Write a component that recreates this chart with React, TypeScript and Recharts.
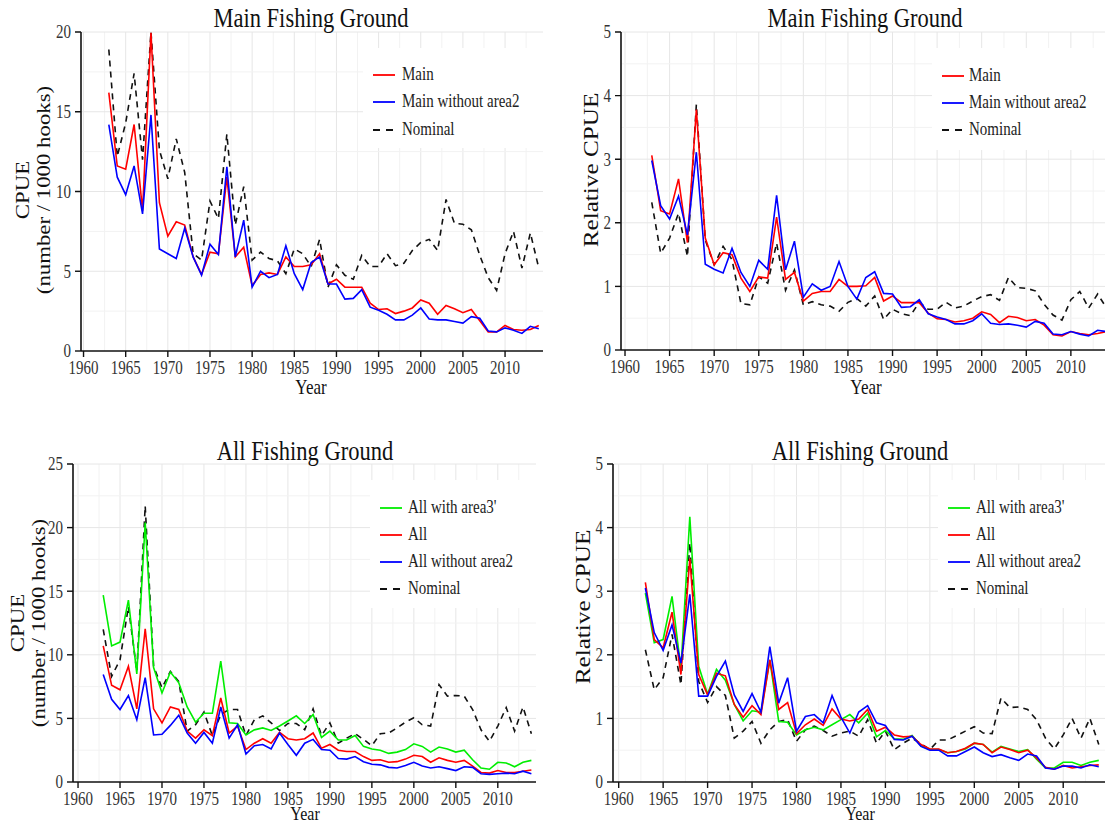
import React from 'react';
import { LineChart, Line, XAxis, YAxis, ReferenceLine } from 'recharts';

// ─── Data ─────────────────────────────────────────────────
const years = [
  1963, 1964, 1965, 1966, 1967, 1968, 1969, 1970, 1971, 1972,
  1973, 1974, 1975, 1976, 1977, 1978, 1979, 1980, 1981, 1982,
  1983, 1984, 1985, 1986, 1987, 1988, 1989, 1990, 1991, 1992,
  1993, 1994, 1995, 1996, 1997, 1998, 1999, 2000, 2001, 2002,
  2003, 2004, 2005, 2006, 2007, 2008, 2009, 2010, 2011, 2012,
  2013, 2014,
];

// Main fishing ground, CPUE (number / 1000 hooks)
const mainCpue = [
  16.2, 11.6, 11.4, 14.2, 8.8, 19.95, 9.3, 7.2, 8.1, 7.9,
  5.9, 4.8, 6.2, 6.1, 10.9, 5.9, 6.5, 4.1, 4.8, 4.9,
  4.8, 5.9, 5.3, 5.3, 5.4, 6.1, 4.2, 4.5, 4.0, 4.0,
  4.0, 3.0, 2.6, 2.65, 2.35, 2.5, 2.7, 3.2, 3.0, 2.3,
  2.85, 2.65, 2.4, 2.6, 1.9, 1.2, 1.2, 1.6, 1.35, 1.3,
  1.35, 1.6,
];
const mainNoArea2Cpue = [
  14.2, 10.9, 9.8, 11.6, 8.6, 14.8, 6.4, 6.1, 5.8, 7.7,
  5.9, 4.75, 6.7, 6.05, 11.55, 5.9, 8.2, 4.0, 5.0, 4.6,
  4.8, 6.6, 4.85, 3.85, 5.55, 5.9, 4.2, 4.2, 3.25, 3.3,
  3.85, 2.75, 2.55, 2.3, 1.95, 1.95, 2.25, 2.7, 2.0, 1.95,
  1.95, 1.85, 1.75, 2.15, 2.05, 1.25, 1.2, 1.45, 1.3, 1.1,
  1.55, 1.4,
];
const nominalMainCpue = [
  18.9, 12.2, 14.3, 17.4, 12.0, 20.0, 12.6, 10.8, 13.3, 11.2,
  6.1, 5.7, 9.4, 8.3, 13.6, 7.9, 10.3, 5.7, 6.2, 5.8,
  5.65, 4.85, 6.4, 6.1, 5.3, 7.0, 4.0, 5.4, 4.75, 4.5,
  6.0, 5.3, 5.3, 6.1, 5.35, 5.5, 6.3, 6.8, 7.0, 6.3,
  9.5, 8.0, 7.95, 7.6, 6.0, 4.6, 3.8, 6.1, 7.5, 5.2,
  7.4, 5.2,
];

// Main fishing ground, relative CPUE
const mainRel = [
  3.06, 2.19, 2.14, 2.69, 1.69, 3.78, 1.76, 1.34, 1.53, 1.5,
  1.13, 0.92, 1.15, 1.13, 2.09, 1.11, 1.22, 0.77, 0.89, 0.92,
  0.92, 1.11, 1.0, 1.0, 1.01, 1.14, 0.77, 0.85, 0.745, 0.745,
  0.745, 0.58, 0.49, 0.48, 0.44, 0.46, 0.5, 0.6, 0.56, 0.43,
  0.53, 0.51, 0.46, 0.48, 0.39, 0.24, 0.22, 0.29, 0.26, 0.24,
  0.26, 0.29,
];
const mainNoArea2Rel = [
  2.98, 2.27, 2.06, 2.42, 1.81, 3.11, 1.35, 1.27, 1.21, 1.6,
  1.22, 1.0, 1.41, 1.27, 2.43, 1.26, 1.71, 0.83, 1.04, 0.94,
  1.0, 1.39, 1.0, 0.8, 1.14, 1.23, 0.89, 0.88, 0.67, 0.68,
  0.79, 0.57, 0.52, 0.48, 0.41, 0.41, 0.46, 0.57, 0.42, 0.4,
  0.41, 0.39, 0.36, 0.45, 0.42, 0.25, 0.24, 0.29, 0.25, 0.22,
  0.31, 0.29,
];
const nominalMainRel = [
  2.32, 1.52, 1.76, 2.15, 1.47, 3.86, 1.73, 1.34, 1.63, 1.42,
  0.73, 0.71, 1.15, 1.05, 1.68, 0.94, 1.26, 0.71, 0.76, 0.71,
  0.69, 0.61, 0.75, 0.81, 0.69, 0.85, 0.48, 0.64, 0.57, 0.54,
  0.75, 0.64, 0.64, 0.75, 0.66, 0.69, 0.77, 0.84, 0.87, 0.78,
  1.14, 0.98, 0.97, 0.93, 0.72, 0.55, 0.47, 0.79, 0.92, 0.66,
  0.88, 0.66,
];

// All fishing ground, CPUE (number / 1000 hooks)
const allArea3Cpue = [
  14.7, 10.7, 11.0, 14.3, 8.5, 20.4, 9.0, 7.0, 8.65, 7.8,
  5.9, 4.7, 5.4, 5.4, 9.5, 4.65, 4.6, 3.7, 4.1, 4.25,
  4.05, 4.4, 4.8, 5.2, 4.6, 5.3, 3.5, 4.0, 3.3, 3.3,
  3.65, 2.8, 2.6, 2.5, 2.25, 2.35, 2.55, 3.0, 2.8, 2.35,
  2.75, 2.6, 2.35, 2.5, 1.75, 1.1, 1.0, 1.55, 1.5, 1.2,
  1.55, 1.7,
];
const allCpue = [
  10.7, 7.6, 7.25, 9.1, 5.75, 12.05, 5.75, 4.65, 5.9, 5.7,
  4.0, 3.45, 4.1, 3.65, 6.6, 3.85, 4.4, 2.55, 3.05, 3.4,
  3.05, 3.9, 3.4, 3.3, 3.4, 3.85, 2.65, 2.95, 2.5, 2.4,
  2.4, 2.0, 1.7, 1.75, 1.55, 1.6, 1.8, 2.1, 2.0, 1.55,
  1.9, 1.7, 1.55, 1.7, 1.25, 0.75, 0.7, 0.9, 0.75, 0.75,
  0.85, 0.95,
];
const allNoArea2Cpue = [
  8.45, 6.5, 5.7, 6.8, 4.9, 8.2, 3.7, 3.75, 4.45, 5.25,
  3.85, 3.05, 3.9, 3.05, 5.9, 3.45, 4.5, 2.2, 2.85, 2.95,
  2.6, 3.85, 2.95, 2.1, 3.05, 3.35, 2.55, 2.5, 1.85, 1.8,
  2.0, 1.6, 1.4, 1.35, 1.15, 1.1, 1.3, 1.55, 1.25, 1.1,
  1.2, 1.05, 0.9, 1.2, 1.15, 0.65, 0.6, 0.65, 0.7, 0.65,
  0.85, 0.65,
];
const nominalAllCpue = [
  12.0, 8.3, 9.6, 13.8, 8.7, 21.7, 9.1, 7.4, 8.7, 7.9,
  4.0, 4.5, 5.5, 3.65, 5.3, 5.7, 5.7, 3.65, 4.9, 5.2,
  4.65, 4.05, 4.6, 4.6, 4.1, 5.75, 3.65, 4.65, 3.05, 3.45,
  3.8, 3.35, 2.85, 3.8, 3.85, 4.25, 4.7, 5.05, 4.5, 4.4,
  7.65, 6.75, 6.8, 6.75, 5.7, 4.1, 3.2, 4.4, 5.85, 4.0,
  5.9, 3.8,
];

// All fishing ground, relative CPUE
const allArea3Rel = [
  2.97, 2.19, 2.24, 2.92, 1.78, 4.17, 1.82, 1.38, 1.77, 1.6,
  1.22, 0.96, 1.12, 1.1, 1.92, 0.95, 0.94, 0.74, 0.82, 0.86,
  0.82, 0.9, 0.98, 1.06, 0.93, 1.08, 0.71, 0.81, 0.68, 0.67,
  0.73, 0.57, 0.51, 0.51, 0.46, 0.48, 0.52, 0.61, 0.59, 0.47,
  0.56, 0.52, 0.48, 0.51, 0.36, 0.22, 0.22, 0.31, 0.31, 0.26,
  0.31, 0.34,
];
const allRel = [
  3.14, 2.24, 2.11, 2.67, 1.69, 3.51, 1.69, 1.37, 1.71, 1.67,
  1.22, 1.02, 1.2, 1.06, 1.92, 1.14, 1.25, 0.76, 0.9, 0.99,
  0.89, 1.15, 0.99, 0.96, 0.99, 1.14, 0.8, 0.86, 0.74, 0.71,
  0.72, 0.59, 0.52, 0.52, 0.46, 0.48, 0.53, 0.61, 0.59, 0.46,
  0.55, 0.51, 0.46, 0.5, 0.38, 0.23, 0.2, 0.26, 0.22, 0.24,
  0.26, 0.27,
];
const allNoArea2Rel = [
  3.05, 2.35, 2.07, 2.47, 1.87, 2.95, 1.35, 1.35, 1.66, 1.9,
  1.37, 1.11, 1.39, 1.1, 2.13, 1.24, 1.64, 0.8, 1.03, 1.06,
  0.93, 1.36, 1.02, 0.77, 1.1, 1.2, 0.93, 0.89, 0.67, 0.66,
  0.72, 0.56, 0.5, 0.5, 0.41, 0.41, 0.48, 0.55, 0.46, 0.4,
  0.43, 0.38, 0.34, 0.44, 0.41, 0.22, 0.2, 0.25, 0.25, 0.22,
  0.27, 0.24,
];
const nominalAllRel = [
  2.08, 1.45, 1.64, 2.32, 1.53, 3.76, 1.58, 1.25, 1.5, 1.36,
  0.69, 0.8, 0.95, 0.61, 0.82, 0.95, 0.98, 0.64, 0.82, 0.88,
  0.81, 0.72, 0.77, 0.8, 0.72, 0.98, 0.61, 0.8, 0.51, 0.61,
  0.69, 0.6, 0.51, 0.66, 0.66, 0.73, 0.8, 0.87, 0.77, 0.76,
  1.32, 1.17, 1.18, 1.14, 0.98, 0.69, 0.52, 0.74, 1.0, 0.69,
  1.0, 0.59,
];

// ─── Ticks / grid ─────────────────────────────────────────
const yearTicks = [1960, 1965, 1970, 1975, 1980, 1985, 1990, 1995, 2000, 2005, 2010];
const yearGrid = [
  1960, 1962.5, 1965, 1967.5, 1970, 1972.5, 1975, 1977.5, 1980, 1982.5, 1985,
  1987.5, 1990, 1992.5, 1995, 1997.5, 2000, 2002.5, 2005, 2007.5, 2010, 2012.5,
];
const cpueMainTicks = [0, 5, 10, 15, 20];
const cpueAllTicks = [0, 5, 10, 15, 20, 25];
const cpueGrid = [2.5, 5, 7.5, 10, 12.5, 15, 17.5, 20, 22.5, 25];
const relTicks = [0, 1, 2, 3, 4, 5];
const relGrid = [0.5, 1, 1.5, 2, 2.5, 3, 3.5, 4, 4.5, 5];

const SERIF = "'Liberation Serif', 'Times New Roman', serif";
const STRETCH = 1.2;

type Series = { name: string; values: number[]; color: string; dashed?: boolean };

function XTick(props: any) {
  const { x, y, payload } = props;
  return (
    <text
      transform={`translate(${x},${y}) scale(1,${STRETCH})`}
      textAnchor="middle"
      dy="0.71em"
      fontSize={15}
      fontFamily={SERIF}
      fill="#333"
    >
      {payload.value}
    </text>
  );
}

function YTick(props: any) {
  const { x, y, payload } = props;
  return (
    <text
      transform={`translate(${x},${y}) scale(1,${STRETCH})`}
      textAnchor="end"
      dy="0.35em"
      fontSize={15}
      fontFamily={SERIF}
      fill="#333"
    >
      {payload.value}
    </text>
  );
}

function Panel({
  left,
  top,
  width,
  height,
  margin,
  yWidth,
  xHeight,
  xDomain,
  yDomain,
  yTicks,
  yGrid,
  series,
}: {
  left: number;
  top: number;
  width: number;
  height: number;
  margin: { top: number; right: number; bottom: number; left: number };
  yWidth: number;
  xHeight: number;
  xDomain: [number, number];
  yDomain: [number, number];
  yTicks: number[];
  yGrid: number[];
  series: Series[];
}) {
  const data = years.map((yr, i) => {
    const row: Record<string, number> = { year: yr };
    series.forEach((s, k) => {
      row[`s${k}`] = s.values[i];
    });
    return row;
  });

  // nominal series is drawn first so the coloured indices sit on top of it
  const order = [...series.keys()].sort(
    (a, b) => Number(!!series[b].dashed) - Number(!!series[a].dashed)
  );

  // keep anything that overflows inside the plot area
  const px = margin.left + yWidth;
  const py = margin.top - 1;
  const clip = `polygon(0 0, ${px}px 0, ${px}px ${py}px, ${width}px ${py}px, ${width}px ${height}px, 0 ${height}px)`;

  return (
    <div style={{ position: 'absolute', left, top, width, height, clipPath: clip }}>
      <LineChart width={width} height={height} data={data} margin={margin}>
        {yearGrid.map((g) => (
          <ReferenceLine
            key={`gx${g}`}
            x={g}
            stroke={yearTicks.includes(g) ? '#e6e6e6' : '#f2f2f2'}
            strokeWidth={1}
          />
        ))}
        {yGrid.map((g) => (
          <ReferenceLine
            key={`gy${g}`}
            y={g}
            stroke={yTicks.includes(g) ? '#e6e6e6' : '#f2f2f2'}
            strokeWidth={1}
          />
        ))}
        <XAxis
          dataKey="year"
          type="number"
          domain={xDomain}
          ticks={yearTicks}
          allowDataOverflow
          height={xHeight}
          tickSize={6}
          tickMargin={4}
          axisLine={{ stroke: '#111', strokeWidth: 1.6 }}
          tickLine={{ stroke: '#111', strokeWidth: 1.4 }}
          tick={XTick}
        />
        <YAxis
          type="number"
          domain={yDomain}
          ticks={yTicks}
          allowDataOverflow
          width={yWidth}
          tickSize={6}
          tickMargin={4}
          axisLine={{ stroke: '#111', strokeWidth: 1.6 }}
          tickLine={{ stroke: '#111', strokeWidth: 1.4 }}
          tick={YTick}
        />
        {order.map((k) => {
          const s = series[k];
          return (
            <Line
              key={s.name}
              type="linear"
              dataKey={`s${k}`}
              stroke={s.color}
              strokeWidth={1.6}
              strokeDasharray={s.dashed ? '6 5' : undefined}
              dot={false}
              activeDot={false}
              isAnimationActive={false}
            />
          );
        })}
      </LineChart>
    </div>
  );
}

function Legend({
  left,
  top,
  width,
  height,
  rowTops,
  sampleLeft,
  textLeft,
  series,
}: {
  left: number;
  top: number;
  width: number;
  height: number;
  rowTops: number[];
  sampleLeft: number;
  textLeft: number;
  series: Series[];
}) {
  return (
    <>
      <div style={{ position: 'absolute', left, top, width, height, background: '#fff' }} />
      {series.map((s, i) => (
        <React.Fragment key={s.name}>
          <svg
            style={{ position: 'absolute', left: sampleLeft, top: rowTops[i] - 3 }}
            width={24}
            height={6}
          >
            <line
              x1={0}
              y1={3}
              x2={22}
              y2={3}
              stroke={s.color}
              strokeWidth={1.8}
              strokeDasharray={s.dashed ? '7 6' : undefined}
            />
          </svg>
          <div
            style={{
              position: 'absolute',
              left: textLeft,
              top: rowTops[i],
              transform: `translateY(-50%) scaleY(${STRETCH})`,
              transformOrigin: 'left center',
              fontFamily: SERIF,
              fontSize: 15,
              color: '#222',
              whiteSpace: 'nowrap',
              lineHeight: 1,
            }}
          >
            {s.name}
          </div>
        </React.Fragment>
      ))}
    </>
  );
}

function Label({
  x,
  y,
  text,
  size,
  rotate,
}: {
  x: number;
  y: number;
  text: string;
  size: number;
  rotate?: boolean;
}) {
  return (
    <div
      style={{
        position: 'absolute',
        left: x,
        top: y,
        transform: rotate
          ? `translate(-50%, -50%) rotate(-90deg) scaleX(${STRETCH})`
          : `translate(-50%, -50%) scaleY(${STRETCH})`,
        fontFamily: SERIF,
        fontSize: size,
        color: '#111',
        whiteSpace: 'nowrap',
        lineHeight: 1,
      }}
    >
      {text}
    </div>
  );
}

export default function App() {
  const mainSeries: Series[] = [
    { name: 'Main', values: mainCpue, color: '#ff0000' },
    { name: 'Main without area2', values: mainNoArea2Cpue, color: '#0000ff' },
    { name: 'Nominal', values: nominalMainCpue, color: '#111', dashed: true },
  ];
  const mainRelSeries: Series[] = [
    { name: 'Main', values: mainRel, color: '#ff0000' },
    { name: 'Main without area2', values: mainNoArea2Rel, color: '#0000ff' },
    { name: 'Nominal', values: nominalMainRel, color: '#111', dashed: true },
  ];
  const allSeries: Series[] = [
    { name: "All with area3'", values: allArea3Cpue, color: '#00ee00' },
    { name: 'All', values: allCpue, color: '#ff0000' },
    { name: 'All without area2', values: allNoArea2Cpue, color: '#0000ff' },
    { name: 'Nominal', values: nominalAllCpue, color: '#111', dashed: true },
  ];
  const allRelSeries: Series[] = [
    { name: "All with area3'", values: allArea3Rel, color: '#00ee00' },
    { name: 'All', values: allRel, color: '#ff0000' },
    { name: 'All without area2', values: allNoArea2Rel, color: '#0000ff' },
    { name: 'Nominal', values: nominalAllRel, color: '#111', dashed: true },
  ];

  return (
    <div
      style={{
        position: 'absolute',
        left: 0,
        top: 0,
        width: 1105,
        height: 825,
        overflow: 'hidden',
        background: '#fff',
      }}
    >
      {/* ─── Top left: Main, CPUE ─── */}
      <Panel
        left={0}
        top={0}
        width={560}
        height={400}
        margin={{ top: 32, right: 17, bottom: 0, left: 0 }}
        yWidth={81}
        xHeight={49}
        xDomain={[1959.7, 2014.5]}
        yDomain={[0, 20]}
        yTicks={cpueMainTicks}
        yGrid={cpueGrid}
        series={mainSeries}
      />
      <Legend
        left={363}
        top={48}
        width={180}
        height={100}
        rowTops={[75, 102, 130]}
        sampleLeft={373}
        textLeft={402}
        series={mainSeries}
      />
      <Label x={311} y={19} text="Main Fishing Ground" size={22.5} />
      <Label x={311} y={387} text="Year" size={17} />
      <Label x={22} y={190} text="CPUE" size={19} rotate />
      <Label x={43} y={190} text="(number / 1000 hooks)" size={19} rotate />

      {/* ─── Top right: Main, relative ─── */}
      <Panel
        left={540}
        top={0}
        width={580}
        height={400}
        margin={{ top: 32, right: 9, bottom: 0, left: 0 }}
        yWidth={81}
        xHeight={50}
        xDomain={[1959.55, 2014.5]}
        yDomain={[0, 5]}
        yTicks={relTicks}
        yGrid={relGrid}
        series={mainRelSeries}
      />
      <Legend
        left={932}
        top={48}
        width={180}
        height={102}
        rowTops={[76, 103, 130]}
        sampleLeft={942}
        textLeft={969}
        series={mainRelSeries}
      />
      <Label x={865} y={19} text="Main Fishing Ground" size={22.5} />
      <Label x={866} y={387} text="Year" size={17} />
      <Label x={591} y={170} text="Relative CPUE" size={21} rotate />

      {/* ─── Bottom left: All, CPUE ─── */}
      <Panel
        left={0}
        top={430}
        width={560}
        height={395}
        margin={{ top: 34, right: 24, bottom: 0, left: 0 }}
        yWidth={73}
        xHeight={43}
        xDomain={[1959.4, 2014.55]}
        yDomain={[0, 25]}
        yTicks={cpueAllTicks}
        yGrid={cpueGrid}
        series={allSeries}
      />
      <Legend
        left={370}
        top={480}
        width={166}
        height={128}
        rowTops={[508, 535, 562, 589]}
        sampleLeft={380}
        textLeft={408}
        series={allSeries}
      />
      <Label x={305} y={452} text="All Fishing Ground" size={22.5} />
      <Label x={305} y={813.5} text="Year" size={16} />
      <Label x={17} y={623} text="CPUE" size={19} rotate />
      <Label x={38} y={623} text="(number / 1000 hooks)" size={19} rotate />

      {/* ─── Bottom right: All, relative ─── */}
      <Panel
        left={540}
        top={430}
        width={580}
        height={395}
        margin={{ top: 34, right: 15, bottom: 0, left: 0 }}
        yWidth={73}
        xHeight={43}
        xDomain={[1959.36, 2014.7]}
        yDomain={[0, 5]}
        yTicks={relTicks}
        yGrid={relGrid}
        series={allRelSeries}
      />
      <Legend
        left={938}
        top={480}
        width={180}
        height={128}
        rowTops={[508, 535, 562, 589]}
        sampleLeft={948}
        textLeft={976}
        series={allRelSeries}
      />
      <Label x={860} y={452} text="All Fishing Ground" size={22.5} />
      <Label x={860} y={813.5} text="Year" size={16} />
      <Label x={583} y={607} text="Relative CPUE" size={21} rotate />
    </div>
  );
}
